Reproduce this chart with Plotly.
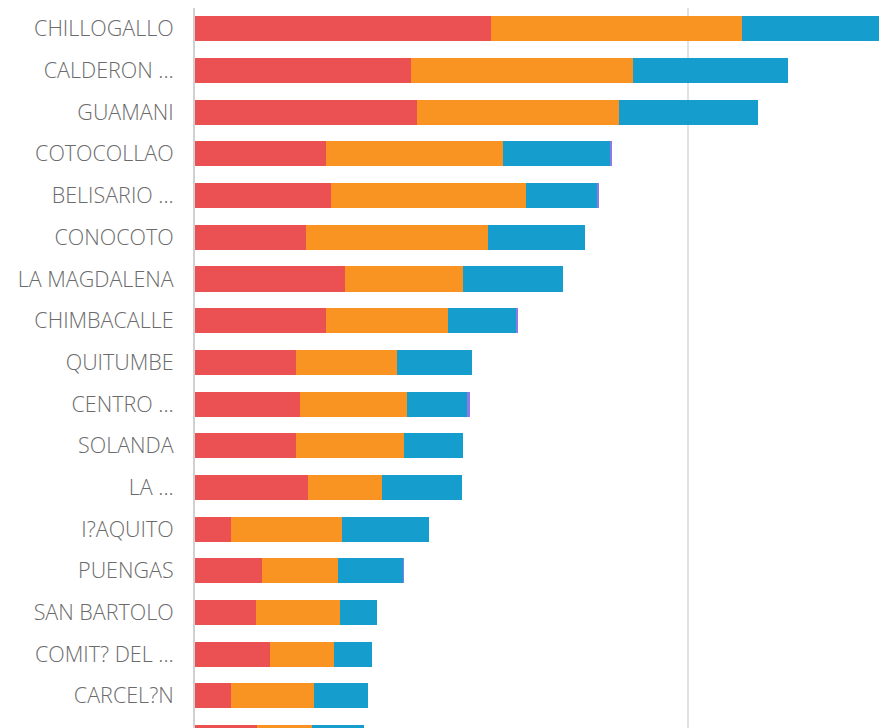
import plotly.graph_objects as go

# Parishes, top to bottom
parroquias = [
    "CHILLOGALLO", "CALDERON ...", "GUAMANI", "COTOCOLLAO", "BELISARIO ...",
    "CONOCOTO", "LA MAGDALENA", "CHIMBACALLE", "QUITUMBE", "CENTRO ...",
    "SOLANDA", "LA ...", "I?AQUITO", "PUENGAS", "SAN BARTOLO",
    "COMIT? DEL ...", "CARCEL?N", "KENNEDY",
]

# Stacked series values per parish
serie_a = [300, 219, 225, 133, 138, 113, 152, 133, 102, 106, 102, 115, 36, 68, 62, 76, 37, 63]
serie_b = [255, 225, 205, 179, 198, 184, 120, 124, 103, 109, 110, 75, 113, 77, 85, 65, 84, 56]
serie_c = [167, 157, 141, 109, 72, 99, 101, 69, 76, 61, 60, 81, 88, 66, 38, 38, 54, 52]
serie_d = [0, 0, 0, 1.5, 1, 0, 0, 2, 0, 2.5, 0, 0, 0, 0.5, 0, 0, 0, 0]

series = [
    ("A", serie_a, "#EB5152"),
    ("B", serie_b, "#F99322"),
    ("C", serie_c, "#159DCD"),
    ("D", serie_d, "#8C7BE6"),
]

fig = go.Figure()
for name, vals, color in series:
    fig.add_trace(go.Bar(
        y=parroquias, x=vals, name=name, orientation="h",
        marker=dict(color=color, line=dict(width=0)),
        hoverinfo="x+y",
    ))

fig.update_layout(
    width=879, height=728,
    margin=dict(l=195, r=0, t=8, b=0),
    barmode="stack", bargap=0.4,
    showlegend=False,
    plot_bgcolor="white", paper_bgcolor="white",
    font=dict(family="Open Sans, Lato, sans-serif", size=21, color="#6b6b6b"),
)
fig.update_xaxes(
    range=[0, 693.7], dtick=500, showticklabels=False,
    showgrid=True, gridcolor="#e2e2e2", gridwidth=2,
    zeroline=False, showline=False, fixedrange=True,
)
fig.update_yaxes(
    categoryorder="array", categoryarray=parroquias,
    range=[16.77, -0.5],
    showline=True, linecolor="#d0d0d0", linewidth=2,
    showgrid=False, ticks="", ticklabelstandoff=15,
    tickfont=dict(family="Open Sans, Lato, sans-serif", size=21.5, color="#6b6b6b", weight=300),
    fixedrange=True,
)

fig.write_html("out.html")
